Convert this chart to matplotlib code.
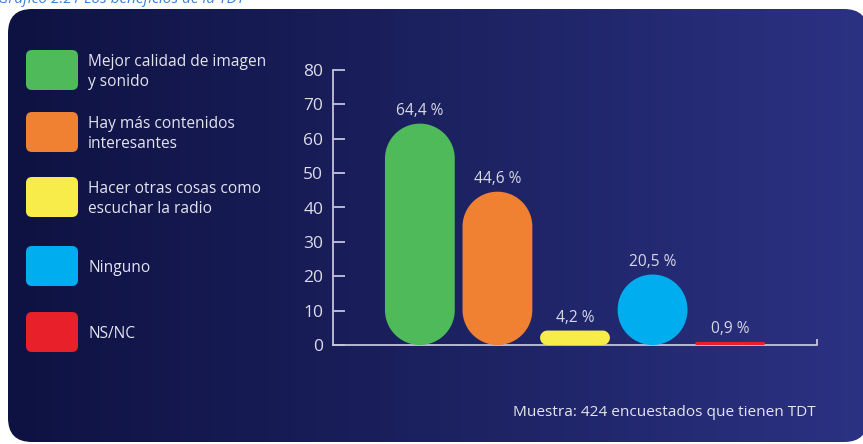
import numpy as np
import matplotlib
matplotlib.use("Agg")
import matplotlib.pyplot as plt
from matplotlib.patches import FancyBboxPatch, Polygon
from matplotlib.colors import LinearSegmentedColormap
from matplotlib import font_manager as fm

# ---- data ----
categories = ["Mejor calidad de imagen\ny sonido",
              "Hay más contenidos\ninteresantes",
              "Hacer otras cosas como\nescuchar la radio",
              "Ninguno",
              "NS/NC"]
values = [64.4, 44.6, 4.2, 20.5, 0.9]
colors = ["#4fba5a", "#f08032", "#f8ec4a", "#00aeef", "#e8202a"]
yticks = [0, 10, 20, 30, 40, 50, 60, 70, 80]
title = "Gráfico 2.21 Los beneficios de la TDT"
footnote = "Muestra: 424 encuestados que tienen TDT"

W, H = 863, 444
fig = plt.figure(figsize=(W / 100, H / 100), dpi=100)
fig.patch.set_facecolor("white")

avail = {f.name for f in fm.fontManager.ttflist}
def pick(*names):
    for n in names:
        if n in avail:
            return n
    return "DejaVu Sans"
main_font = pick("Open Sans", "Noto Sans", "DejaVu Sans")

# ---- background panel (pixel coordinates) ----
bg = fig.add_axes([0, 0, 1, 1])
bg.set_xlim(0, W)
bg.set_ylim(H, 0)
bg.axis("off")
grad = np.linspace(0, 1, 256)[None, :]
cmap = LinearSegmentedColormap.from_list("g", ["#0e1242", "#1c2160", "#2c3283"])
im = bg.imshow(grad, cmap=cmap, extent=[8, 868, 442, 9], aspect="auto", zorder=0)
panel = FancyBboxPatch((8, 9), 860, 433, boxstyle="round,pad=0,rounding_size=24",
                       transform=bg.transData, facecolor="none", edgecolor="none")
bg.add_patch(panel)
im.set_clip_path(panel)

bg.text(-2, 3, title, fontsize=11, style="italic", color="#3b82d4",
        family=main_font, va="baseline", ha="left")

# legend
leg_centers = [70, 132, 197, 266, 332]
for lab, col, cy in zip(categories, colors, leg_centers):
    bg.add_patch(FancyBboxPatch((26, cy - 20), 52, 40, boxstyle="round,pad=0,rounding_size=6",
                                facecolor=col, edgecolor="none", zorder=2))
    bg.text(88, cy + 2, lab, fontsize=11.2, color="#e4e4ee", family=main_font,
            va="center", ha="left", linespacing=1.33, zorder=3)

bg.text(816, 412, footnote, fontsize=11.1, color="#e4e4ee", family=main_font,
        va="center", ha="right")

# ---- chart axes ----
ax = fig.add_axes([333 / W, 1 - 345 / H, 484 / W, 275 / H])
ax.set_facecolor("none")
xlo, xhi = -1.12, 5.12
ax.set_xlim(xlo, xhi)
ax.set_ylim(0, 80)
for s in ["top", "right"]:
    ax.spines[s].set_visible(False)
axis_col = "#c4c4dc"
for s in ["left", "bottom"]:
    ax.spines[s].set_color(axis_col)
    ax.spines[s].set_linewidth(1.3)
ax.set_xticks([])
ax.set_yticks(yticks)
ax.tick_params(axis="y", direction="in", length=8.5, width=1.3, color=axis_col,
               labelcolor="#dcdce8", labelsize=12.5, pad=7)
for t in ax.get_yticklabels():
    t.set_family(main_font)
ax.plot([1, 1], [0, 0.022], transform=ax.transAxes, color=axis_col, lw=1.3,
        clip_on=False, solid_capstyle="butt")

# aspect for circular corners (pixels per unit)
px_per_x = 484 / (xhi - xlo)
px_per_y = 275 / 80
m_aspect = px_per_x / px_per_y   # y-units per x-unit for equal pixel lengths


def pill(xc, h, w):
    """Rounded rectangle with circular (in pixels) corners, from 0 to h."""
    rx = min(w / 2, h / (2 * m_aspect))
    ry = rx * m_aspect
    x0, x1 = xc - w / 2, xc + w / 2
    t = np.linspace(0, np.pi / 2, 30)
    br = list(zip(x1 - rx + rx * np.sin(t), ry - ry * np.cos(t)))
    tr = list(zip(x1 - rx + rx * np.cos(t), h - ry + ry * np.sin(t)))
    tl = list(zip(x0 + rx - rx * np.sin(t), h - ry + ry * np.cos(t)))
    bl = list(zip(x0 + rx - rx * np.cos(t), ry - ry * np.sin(t)))
    return np.array(br + tr + tl + bl)


x = np.arange(len(values))
bw = 0.9
for xi, v, col in zip(x, values, colors):
    ax.add_patch(Polygon(pill(xi, v, bw), closed=True, facecolor=col,
                         edgecolor="none", zorder=3, clip_on=False))
    ax.annotate(f"{v:.1f}".replace(".", ",") + " %", (xi, v), xytext=(0, 3.5),
                textcoords="offset points", ha="center", va="bottom",
                fontsize=11.2, color="#d8d8e6", family=main_font)

fig.savefig("out.png", dpi=100, facecolor="white")
